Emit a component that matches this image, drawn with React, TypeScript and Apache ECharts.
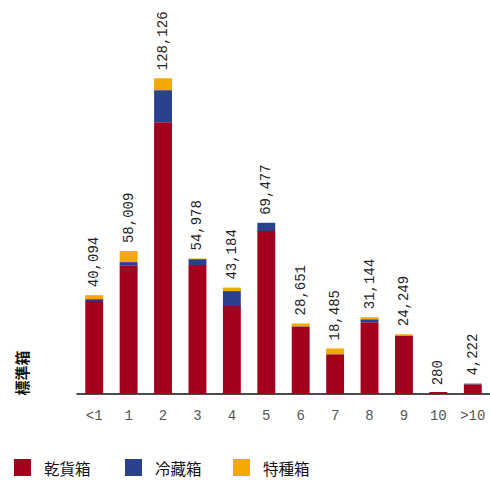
import React, { useEffect, useRef } from "react";
import * as echarts from "echarts";

const categories = ["<1", "1", "2", "3", "4", "5", "6", "7", "8", "9", "10", ">10"];
const dryValues = [37700, 52030, 110300, 52300, 35685, 66100, 27400, 16100, 29120, 23730, 280, 3900];
const reeferValues = [800, 1500, 13000, 2433, 6083, 3377, 100, 50, 1213, 0, 0, 322];
const specialValues = [1594, 4479, 4826, 245, 1416, 0, 1151, 2335, 811, 519, 0, 0];
const totals = [40094, 58009, 128126, 54978, 43184, 69477, 28651, 18485, 31144, 24249, 280, 4222];
const seriesNames = ["乾貨箱", "冷藏箱", "特種箱"];
const yAxisName = "標準箱";

const colors = ["#A3001E", "#2A418E", "#F2AA00"];
const monoFont = "'Liberation Mono', 'DejaVu Sans Mono', monospace";
const cjkFont = "'Noto Sans CJK JP', 'Noto Sans CJK TC', sans-serif";

export default function App() {
  const ref = useRef<HTMLDivElement>(null);
  useEffect(() => {
    if (!ref.current) return;
    const chart = echarts.init(ref.current, undefined, { renderer: "svg" });
    const values = [dryValues, reeferValues, specialValues];
    const legendLefts = [14, 125, 233];
    chart.setOption({
      animation: false,
      backgroundColor: "#fff",
      grid: { left: 77, right: 0, top: 49, bottom: 86 },
      legend: seriesNames.map((n, i) => ({
        data: [n],
        left: legendLefts[i],
        top: 459,
        padding: 0,
        itemWidth: 25,
        itemHeight: 17,
        icon: "path://M0,0H17V17H0ZM25,0",
        symbolKeepAspect: true,
        selectedMode: false,
        textStyle: {
          fontSize: 15.5,
          color: "#111",
          fontFamily: cjkFont,
        },
      })),
      graphic: [
        {
          type: "text",
          x: 21,
          y: 373,
          rotation: Math.PI / 2,
          style: {
            text: yAxisName,
            fontSize: 15,
            fontWeight: "bold",
            fontFamily: cjkFont,
            fill: "#111",
            textAlign: "center",
            textVerticalAlign: "middle",
          },
        },
      ],
      xAxis: {
        type: "category",
        data: categories,
        axisLine: { lineStyle: { color: "#111", width: 1.5 } },
        axisTick: { show: false },
        axisLabel: {
          margin: 15,
          fontSize: 14,
          color: "#555",
          fontFamily: monoFont,
        },
      },
      yAxis: {
        type: "value",
        show: false,
        min: 0,
        max: 140000,
      },
      series: values.map((v, i) => ({
        name: seriesNames[i],
        type: "bar",
        stack: "total",
        data: v,
        barWidth: "52%",
        barMinHeight: i === 0 ? 2 : 0,
        itemStyle: { color: colors[i] },
        label:
          i === values.length - 1
            ? {
                show: true,
                position: "top",
                rotate: 90,
                align: "left",
                verticalAlign: "middle",
                distance: 8,
                fontSize: 14,
                color: "#222",
                fontFamily: monoFont,
                formatter: (p: any) => totals[p.dataIndex].toLocaleString("en-US"),
              }
            : { show: false },
      })),
    });
    return () => chart.dispose();
  }, []);
  return (
    <div
      ref={ref}
      style={{ position: "fixed", left: 0, top: 0, width: 490, height: 480, background: "#fff" }}
    />
  );
}
